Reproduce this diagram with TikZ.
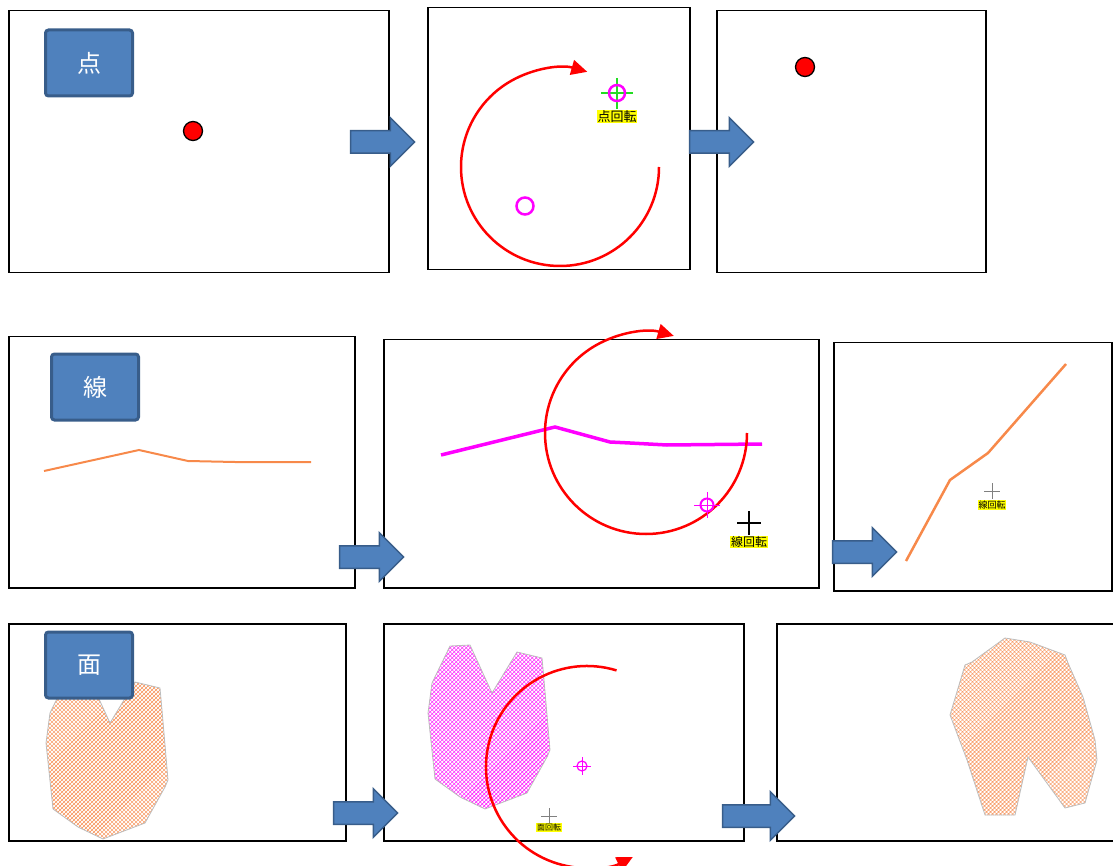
\documentclass[tikz,border=0pt]{standalone}
\usepackage{fontspec}
\newfontfamily\jpfont{Noto Sans CJK JP}
\usetikzlibrary{arrows.meta, shapes.arrows, patterns.meta, positioning}
\definecolor{boxblue}{HTML}{4F81BD}
\definecolor{boxedge}{HTML}{385D8A}
\definecolor{lineorange}{HTML}{F7894A}
\definecolor{outlinegray}{HTML}{BDBDBD}
\definecolor{pink}{HTML}{FF00FF}
\definecolor{brightgreen}{HTML}{22DD22}
\definecolor{marker}{HTML}{FFFF00}
\definecolor{hotred}{HTML}{FF0000}

% polygon of the area (in the coordinates of the middle panel)
\newcommand{\areashape}{(450,646) -- (470,645) -- (492,693) -- (517,652) -- (542,658) -- (544,680) -- (550,750) -- (547,757) -- (527,793) -- (485,809) -- (460,797) -- (435,779) -- (428,713) -- (432,683) -- cycle}

\begin{document}
\begin{tikzpicture}[
    x=1pt, y=-1pt,
    font=\jpfont,
    panel/.style={draw, line width=1.5pt, anchor=north west, inner sep=0pt},
    tag/.style={
      draw=boxedge,
      fill=boxblue,
      line width=3pt,
      rounded corners=3pt,
      minimum width=87pt,
      minimum height=66pt,
      text=white,
      font=\jpfont\fontsize{24}{24}\selectfont
    },
    blockarrow/.style={
      single arrow,
      draw=boxedge,
      fill=boxblue,
      line width=1.5pt,
      inner sep=0pt,
      inner ysep=10.5pt,
      minimum height=64pt,
      single arrow head extend=13pt
    },
    turn/.style={hotred, line width=2.5pt, -{Triangle[length=16pt, width=15pt]}},
    dot/.style={circle, draw, fill=hotred, line width=1.3pt, minimum size=19pt, inner sep=0pt},
    ring/.style={circle, draw=pink, line width=2.5pt, inner sep=0pt},
    hint/.style={fill=marker, inner sep=0.6pt, text=black},
    area/.style={draw=outlinegray, line width=0.8pt},
    hatch/.style={pattern={Hatch[angle=45, distance=2.83pt, line width=0.4pt]}}
  ]
  \useasboundingbox (0,0) rectangle (1113,866);
  \clip (0,0) rectangle (1113,866);

  % ---- row 1 : point
  \node[panel, minimum width=380, minimum height=262] (pointSrc) at (8,10) {};
  \node[panel, minimum width=262, minimum height=262] (pointRot) at (427,7) {};
  \node[panel, minimum width=269, minimum height=262] (pointRes) at (716,10) {};

  \node[dot] (pointA) at (193,131) {};
  \node[ring, minimum size=17pt] (pointB) at (525,206) {};
  \coordinate (pivotB) at (617,93);
  \draw[brightgreen, line width=1.2pt] (pivotB) +(-16,0) -- +(16,0) +(0,-15) -- +(0,16);
  \node[ring, minimum size=16pt] (pivotRing) at (pivotB) {};
  \node[hint, font=\jpfont\fontsize{13}{13}\selectfont, below=17pt of pivotB] (hintB) {点回転};
  \draw[turn] (560,167) ++(99,0) arc[start angle=0, end angle=286, radius=99];
  \node[dot] (pointC) at (805,67) {};

  \node[blockarrow] (arrowA) at (377,142) {};
  \node[blockarrow] (arrowB) at (716,142) {};
  \node[tag] (tagPoint) at (89,63) {点};

  % ---- row 2 : line
  \node[panel, minimum width=346, minimum height=251] (lineSrc) at (8,336) {};
  \node[panel, minimum width=435, minimum height=248] (lineRot) at (383,339) {};
  \node[panel, minimum width=278, minimum height=248] (lineRes) at (833,342) {};

  \draw[lineorange, line width=2pt] (44,471) -- (139,450) -- (188,461) -- (235,462) -- (311,462);
  \draw[pink, line width=3.5pt] (441,455) -- (555,427) -- (610,442) -- (630,443) -- (667,445) -- (762,444);
  \draw[turn] (646,433) ++(101,0) arc[start angle=0, end angle=286, radius=101];
  \coordinate (pivotE) at (707,505);
  \node[ring, minimum size=13pt, line width=2pt] (pivotERing) at (pivotE) {};
  \draw[pink, line width=1pt] (pivotE) +(-13,0) -- +(13,0) +(0,-13) -- +(0,13);
  \coordinate (centerE) at (749,523);
  \draw[line width=1.2pt] (centerE) +(-12,0) -- +(12,0) +(0,-12) -- +(0,12);
  \node[hint, font=\jpfont\fontsize{12}{12}\selectfont, below=13pt of centerE] (hintE) {線回転};

  \draw[lineorange, line width=2.5pt] (906,561) -- (950,480) -- (988,453) -- (1066,364);
  \coordinate (centerF) at (992,491);
  \draw[gray, line width=1pt] (centerF) +(-8,0) -- +(8,0) +(0,-8) -- +(0,8);
  \node[hint, font=\jpfont\fontsize{9}{9}\selectfont, below=9pt of centerF] (hintF) {線回転};

  \node[blockarrow] (arrowC) at (366,557) {};
  \node[blockarrow] (arrowD) at (859,552) {};
  \node[tag] (tagLine) at (95,387) {線};

  % ---- row 3 : area
  \node[panel, minimum width=337, minimum height=217] (areaSrc) at (8,623) {};
  \node[panel, minimum width=360, minimum height=217] (areaRot) at (383,623) {};
  \node[panel, minimum width=340, minimum height=217] (areaRes) at (776,623) {};

  \begin{scope}[shift={(-382,30)}]
    \draw[area, hatch, pattern color=lineorange] \areashape;
  \end{scope}
  \draw[area, hatch, pattern color=pink] \areashape;
  \coordinate (pivotH) at (582,766);
  \node[ring, minimum size=10pt, line width=1.2pt] (pivotHRing) at (pivotH) {};
  \draw[pink, line width=0.8pt] (pivotH) +(-9,0) -- +(9,0) +(0,-9) -- +(0,9);
  \coordinate (centerH) at (549,816);
  \draw[gray, line width=1pt] (centerH) +(-8,0) -- +(8,0) +(0,-8) -- +(0,8);
  \node[hint, font=\jpfont\fontsize{8}{8}\selectfont, below=7pt of centerH] (hintH) {面回転};
  \draw[turn] (587,767) ++(287:101) arc[start angle=287, end angle=63, radius=101];

  \draw[area, hatch, pattern color=lineorange]
    (1005,638) -- (1030,642) -- (1065,655) -- (1068,663) -- (1083,697) -- (1095,740) -- (1097,760) -- (1085,803) -- (1065,808) -- (1028,757) -- (1015,815) -- (985,815) -- (967,760) -- (950,715) -- (965,665) -- (972,662) -- cycle;

  \node[blockarrow] (arrowE) at (360,813) {};
  \node[blockarrow, minimum height=72pt] (arrowF) at (753,816) {};
  \node[tag] (tagArea) at (89,665) {面};
\end{tikzpicture}
\end{document}
